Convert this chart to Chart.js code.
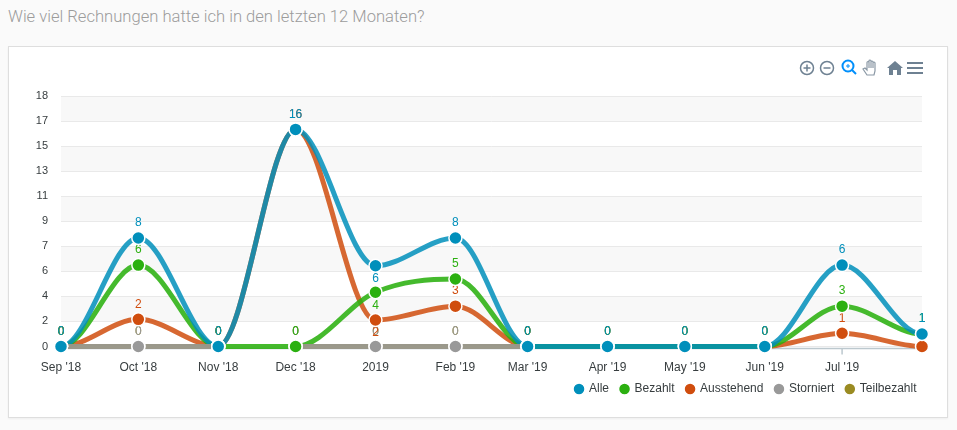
<!DOCTYPE html>
<html>
<head>
<meta charset="utf-8">
<script src="https://cdn.jsdelivr.net/npm/chart.js@4/dist/chart.umd.min.js"></script>
<style>
  html, body { margin: 0; width: 957px; height: 430px; overflow: hidden; background: #fafafa; }
  #title { position: absolute; left: 8px; top: 7px; font: 300 16.6px Roboto, sans-serif; color: #9c9c9c; white-space: nowrap; }
  #card { position: absolute; left: 8px; top: 46px; width: 938px; height: 370px; background: #fff; border: 1px solid #dedede; box-shadow: 0 1px 2px rgba(0,0,0,.05); }
  #wrap { position: absolute; left: 0; top: 0; width: 957px; height: 430px; }
  #tools { position: absolute; left: 797px; top: 58px; }
</style>
</head>
<body>
<div id="title">Wie viel Rechnungen hatte ich in den letzten 12 Monaten?</div>
<div id="card"></div>
<div id="wrap"><canvas id="myChart"></canvas></div>
<svg id="tools" width="130" height="20" viewBox="0 0 130 20" fill="none" stroke="#6e8192" stroke-width="1.5">
  <circle cx="10" cy="10" r="6.5"/><path d="M6.5 10h7M10 6.5v7"/>
  <circle cx="30" cy="10" r="6.5"/><path d="M26.500 10h7"/>
  <circle cx="51" cy="8" r="5.5" stroke="#008ffb" stroke-width="2"/><path d="M55 12l4 4" stroke="#008ffb" stroke-width="2"/><path d="M49 8h4M51 6v4" stroke="#008ffb" stroke-width="1"/>
  <path d="M66 11l2-1 2 2V4.500a1 1 0 0 1 2 0V3a1 1 0 0 1 2 0v1a1 1 0 0 1 2 0v1a1 1 0 0 1 2 0v8l-1 4h-7zM72 4.500V10M74 3v7M76 4v6" stroke-width="1.200" stroke="#8a98a5"/>
  <path d="M90 10l8-7 8 7h-2v7h-4v-5h-4v5h-4v-7z" fill="#6e8192" stroke="none"/>
  <path d="M110 5h16M110 10h16M110 15h16" stroke-width="2"/>
</svg>
<script>
var monthDays = [0, 30, 61, 91, 122, 153, 181, 212, 242, 273, 303, 334];
var monthLabels = ["Sep '18", "Oct '18", "Nov '18", "Dec '18", "2019", "Feb '19", "Mar '19", "Apr '19", "May '19", "Jun '19", "Jul '19", ""];
var yTickLabels = ["0", "2", "4", "6", "7", "9", "11", "13", "15", "17", "18"];

var alleValues = [0, 7.8, 0, 15.6, 5.8, 7.8, 0, 0, 0, 0, 5.85, 0.9];
var bezahltValues = [0, 5.85, 0, 0, 3.9, 4.85, 0, 0, 0, 0, 2.9, 0.9];
var ausstehendValues = [0, 1.95, 0, 15.6, 1.9, 2.9, 0, 0, 0, 0, 0.95, 0];
var storniertValues = [0, 0, 0, 0, 0, 0, 0, null, null, null, null, null];
var teilbezahltValues = [0, 0, 0, 0, 0, 0, 0, null, null, null, null, null];

var alleLabels = [0, 8, 0, 16, 6, 8, 0, 0, 0, 0, 6, 1];
var bezahltLabels = [0, 6, 0, 0, 4, 5, 0, 0, 0, 0, 3, 1];
var ausstehendLabels = [0, 2, 0, 16, 2, 3, 0, 0, 0, 0, 1, null];
var storniertLabels = [0, 0, 0, 0, 0, 0, 0, null, null, null, null, null];
var teilbezahltLabels = [0, 0, 0, 0, 0, 0, 0, null, null, null, null, null];

// the two zero series draw nothing between Nov and Dec or after Mar
var zeroLineGaps = [2, 6];

function points(values) {
  return values.map(function (v, i) { return { x: monthDays[i], y: v }; });
}

var series = [
  { name: "Alle", values: alleValues, labels: alleLabels, color: "#008fbb", line: "rgba(0,143,187,.85)", lineOrder: 3 },
  { name: "Bezahlt", values: bezahltValues, labels: bezahltLabels, color: "#2bb010", line: "rgba(43,176,16,.88)", lineOrder: 4 },
  { name: "Ausstehend", values: ausstehendValues, labels: ausstehendLabels, color: "#d04d0e", line: "rgba(208,77,14,.85)", lineOrder: 5 },
  { name: "Storniert", values: storniertValues, labels: storniertLabels, color: "#999999", line: "rgba(153,153,153,.85)", lineOrder: 1 },
  { name: "Teilbezahlt", values: teilbezahltValues, labels: teilbezahltLabels, color: "#9a8b22", line: "rgba(154,139,34,.85)", lineOrder: 2 }
];

var datasets = [];
// first pass: the lines
series.forEach(function (s) {
  var zeroSeries = s.name == "Storniert" || s.name == "Teilbezahlt";
  datasets.push({
    label: s.name + " line",
    data: points(s.values),
    order: 10 + s.lineOrder,
    borderColor: s.line,
    borderWidth: 5,
    pointRadius: 0,
    cubicInterpolationMode: "monotone",
    clip: false,
    segment: zeroSeries ? {
      borderColor: function (ctx) {
        return zeroLineGaps.indexOf(ctx.p0DataIndex) >= 0 ? "transparent" : undefined;
      }
    } : {}
  });
});
// second pass: the markers, on top of every line
series.forEach(function (s, i) {
  datasets.push({
    label: s.name,
    data: points(s.values),
    order: i,
    showLine: false,
    backgroundColor: s.color,
    borderColor: "#fff",
    pointBackgroundColor: s.color,
    pointBorderColor: "#fff",
    pointBorderWidth: 1.5,
    pointRadius: 6.5,
    clip: false
  });
});

var bandsAndLabels = {
  id: "bandsAndLabels",
  afterDatasetsUpdate: function (chart) {
    // curves leave the first point and reach the last one flat
    series.forEach(function (s, i) {
      var meta = chart.getDatasetMeta(i);
      meta.dataset.updateControlPoints(chart.chartArea, 'x');
      var pts = meta.data, first = pts[0], last = pts[pts.length - 1];
      first.cp2y = first.y;
      last.cp1y = last.y;
    });
  },
  beforeDraw: function (chart) {
    var c = chart.ctx, y = chart.scales.y, a = chart.chartArea;
    c.save();
    c.fillStyle = "#f8f8f8";
    for (var i = 9; i >= 0; i -= 2) {
      var top = y.getPixelForTick(i + 1), bottom = y.getPixelForTick(i);
      c.fillRect(a.left, top, a.right - a.left, bottom - top);
    }
    c.restore();
    if (!chart.legend.shifted) {
      // legend text ends a little past the padded box
      chart.legend.left += 6;
      chart.legend.right += 6;
      chart.legend.shifted = true;
      // room for the descenders, tick labels are clipped to the scale box
      chart.scales.x.bottom += 8;
    }
  },
  beforeDatasetsDraw: function (chart) {
    var c = chart.ctx, x = chart.scales.x, a = chart.chartArea;
    c.save();
    // axis line sits just under the zero line, only the Jul tick shows
    c.strokeStyle = "#bcc8ce";
    c.lineWidth = 1.5;
    c.beginPath();
    c.moveTo(a.left, a.bottom + 2);
    c.lineTo(a.right, a.bottom + 2);
    var jul = x.getPixelForValue(monthDays[10]);
    c.moveTo(jul, a.bottom + 2);
    c.lineTo(jul, a.bottom + 8);
    c.stroke();

    c.font = "12px 'Liberation Sans', Arial, sans-serif";
    c.textAlign = "center";
    c.textBaseline = "middle";
    for (var s = series.length - 1; s >= 0; s--) {
      var meta = chart.getDatasetMeta(series.length + s);
      c.fillStyle = series[s].color;
      series[s].labels.forEach(function (txt, i) {
        if (txt === null) return;
        var el = meta.data[i];
        var drop = (i == 4 && series[s].values[i] > 0) ? 28 : 0; // the 2019 labels sit one slot lower
        c.fillText(String(txt), el.x, el.y - 15 + drop);
      });
    }
    c.restore();
  }
};

var ctx = document.getElementById('myChart').getContext('2d');
var myChart = new Chart(ctx, {
  type: 'line',
  data: { datasets: datasets },
  plugins: [bandsAndLabels],
  options: {
    responsive: true,
    maintainAspectRatio: false,
    animation: false,
    events: [],
    layout: { padding: { top: 96, right: 35, bottom: 25, left: 0 } },
    plugins: {
      tooltip: { enabled: false },
      legend: {
        position: 'bottom',
        align: 'end',
        labels: {
          filter: function (item) { return item.datasetIndex >= series.length; },
          usePointStyle: true,
          pointStyle: 'circle',
          boxHeight: 8.5,
          boxWidth: 8,
          padding: 11.5,
          color: '#373d3f',
          font: { family: "'Liberation Sans', Arial, sans-serif", size: 12 }
        }
      }
    },
    scales: {
      x: {
        type: 'linear',
        min: 0,
        max: 334,
        afterBuildTicks: function (scale) {
          scale.ticks = monthDays.map(function (d) { return { value: d }; });
        },
        afterFit: function (scale) { scale.height = 25; },
        grid: { display: false },
        border: { display: false },
        ticks: {
          autoSkip: false,
          maxRotation: 0,
          padding: 6,
          color: '#373d3f',
          font: { family: "'Liberation Sans', Arial, sans-serif", size: 12 },
          callback: function (v, i) { return monthLabels[i]; }
        }
      },
      y: {
        min: 0,
        max: 18,
        afterFit: function (scale) { scale.width = 61; },
        border: { display: false },
        grid: { color: '#e9e9e9', drawTicks: false },
        ticks: {
          stepSize: 1.8,
          padding: 13,
          color: '#373d3f',
          font: { family: "'Liberation Sans', Arial, sans-serif", size: 11 },
          callback: function (v, i) { return yTickLabels[i]; }
        }
      }
    }
  }
});
</script>
</body>
</html>
